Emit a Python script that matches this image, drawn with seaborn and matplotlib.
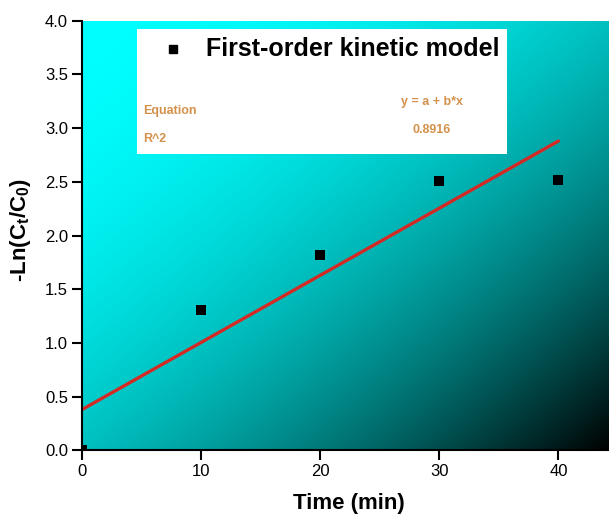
import numpy as np
import pandas as pd
import matplotlib
matplotlib.use("Agg")
import matplotlib.pyplot as plt
from matplotlib.patches import Rectangle
import seaborn as sns

# ── Data ──────────────────────────────────────────────────────────────────────

time_min = [0, 10, 20, 30, 40]
neg_ln_ratio = [0.0, 1.31, 1.82, 2.51, 2.52]

fit_x = [0, 40]
fit_y = [0.38, 2.88]

legend_title = "First-order kinetic model"
table_rows = ["Equation", "R^2"]
table_vals = ["y = a + b*x", "0.8916"]

# ── Style ─────────────────────────────────────────────────────────────────────

sns.set_style("ticks")
plt.rcParams.update({
    "font.family": ["Liberation Sans", "DejaVu Sans"],
    "mathtext.fontset": "custom",
    "mathtext.rm": "Liberation Sans:bold",
    "mathtext.it": "Liberation Sans:bold",
    "mathtext.bf": "Liberation Sans:bold",
    "text.color": "black",
    "axes.labelcolor": "black",
    "xtick.color": "black",
    "ytick.color": "black",
})

ORANGE = "#D4914C"
RED = "#D42A25"

fig = plt.figure(figsize=(6.09, 5.17), dpi=100)
ax = fig.add_axes([0.1346, 0.1288, 0.8654, 0.831])

xmax, ymax = 44.25, 4.0
ax.set_xlim(0, xmax)
ax.set_ylim(0, ymax)

# diagonal cyan -> black background
u = np.linspace(0, 1, 400)
v = np.linspace(0, 1, 400)
U, V = np.meshgrid(u, v)
t = (U + V) / 2
g = np.clip(1 - t ** 2, 0, 1)
img = np.dstack([np.zeros_like(g), g, g])
ax.imshow(img, extent=[0, xmax, 0, ymax], origin="upper",
          aspect="auto", zorder=0, interpolation="bilinear")

df = pd.DataFrame({"time": time_min, "val": neg_ln_ratio})
fit = pd.DataFrame({"x": fit_x, "y": fit_y})

sns.lineplot(data=fit, x="x", y="y", color=RED, linewidth=2.4, ax=ax, zorder=3)
sns.scatterplot(data=df, x="time", y="val", marker="s", s=48, color="black",
                edgecolor="black", linewidth=0, ax=ax, zorder=4)

# legend / stats box
ax.add_patch(Rectangle((0.104, 0.69), 0.702, 0.29, transform=ax.transAxes,
                       facecolor="white", edgecolor="none", zorder=5))
ax.plot([0.173], [0.935], marker="s", markersize=6, color="black",
        transform=ax.transAxes, zorder=6, linestyle="none")
ax.text(0.236, 0.935, legend_title, transform=ax.transAxes, fontsize=18,
        fontweight="bold", va="center", ha="left", zorder=6, color="black")
for i, (lab, val) in enumerate(zip(table_rows, table_vals)):
    yy = 0.79 - i * 0.065
    ax.text(0.116, yy, lab, transform=ax.transAxes, fontsize=9,
            fontweight="bold", color=ORANGE, va="center", ha="left", zorder=6)
    ax.text(0.664, yy + 0.02, val, transform=ax.transAxes, fontsize=9,
            fontweight="bold", color=ORANGE, va="center", ha="center", zorder=6)

# axes styling
ax.set_xticks([0, 10, 20, 30, 40])
ax.set_yticks(np.arange(0, 4.01, 0.5))
ax.yaxis.set_major_formatter(matplotlib.ticker.FormatStrFormatter("%.1f"))
ax.tick_params(direction="out", length=7, width=1.5, labelsize=12,
               colors="black", pad=3)
for side in ["top", "right"]:
    ax.spines[side].set_visible(False)
for side in ["left", "bottom"]:
    ax.spines[side].set_linewidth(1.5)
    ax.spines[side].set_color("black")
    ax.spines[side].set_zorder(7)

ax.set_xlabel("Time (min)", fontsize=16, fontweight="bold")
ax.set_ylabel(r"-Ln(C$_t$/C$_0$)", fontsize=16, fontweight="bold")
ax.xaxis.set_label_coords(0.507, -0.1)
ax.yaxis.set_label_coords(-0.093, 0.513)

fig.savefig("out.png", dpi=100)
